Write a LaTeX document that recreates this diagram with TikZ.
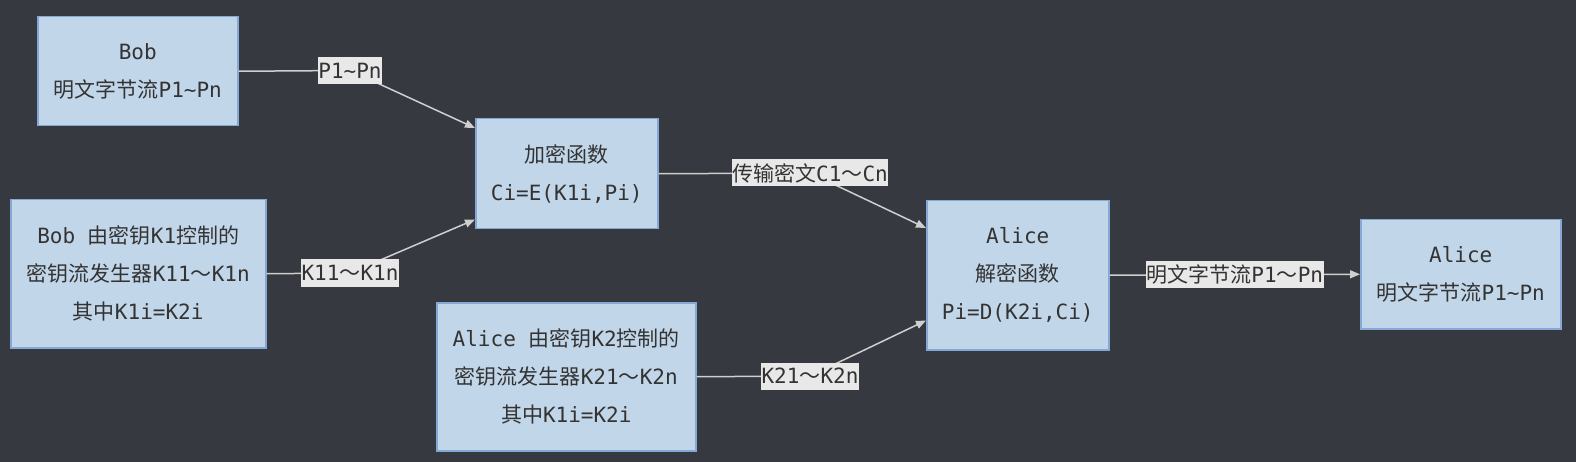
\documentclass[tikz,border=0pt]{standalone}
\usepackage{fontspec}
\setmainfont{DejaVu Sans Mono}
\newfontfamily\cjk{Noto Sans CJK SC}
\usetikzlibrary{arrows.meta,calc}
\definecolor{bg}{HTML}{36393F}
\definecolor{boxfill}{HTML}{C2D6E9}
\definecolor{boxline}{HTML}{85A8D4}
\definecolor{txt}{HTML}{333333}
\definecolor{edgecol}{HTML}{CFCFCF}
\definecolor{lblfill}{HTML}{E8E8E8}
\begin{document}
\begin{tikzpicture}[x=1pt,y=-1pt,
  box/.style={draw=boxline, fill=boxfill, line width=1.5pt, text=txt, align=center,
    font=\fontsize{21}{38}\selectfont, inner sep=0pt, anchor=north west},
  edge/.style={draw=edgecol, line width=1.5pt, -{Triangle[length=10pt,width=8pt]}},
  lbl/.style={fill=lblfill, text=txt, font=\fontsize{21}{26}\selectfont, inner xsep=0.5pt, inner ysep=0pt, minimum height=27pt}
]
\fill[bg] (0,0) rectangle (1576,462);
\useasboundingbox (0,0) rectangle (1576,462);

\node[box, minimum width=200pt, minimum height=109pt] (bob1) at (37,16)
  {Bob\\{\cjk 明文字节流}P1\textasciitilde Pn};
\node[box, minimum width=182pt, minimum height=110pt] (enc) at (475,118)
  {{\cjk 加密函数}\\Ci=E(K1i,Pi)};
\node[box, minimum width=255pt, minimum height=148pt] (bob2) at (10,199)
  {Bob {\cjk 由密钥}K1{\cjk 控制的}\\{\cjk 密钥流发生器}K11{\cjk ～}K1n\\{\cjk 其中}K1i=K2i};
\node[box, minimum width=259pt, minimum height=148pt] (kg2) at (436,302)
  {Alice {\cjk 由密钥}K2{\cjk 控制的}\\{\cjk 密钥流发生器}K21{\cjk ～}K2n\\{\cjk 其中}K1i=K2i};
\node[box, minimum width=182pt, minimum height=149pt] (dec) at (926,200)
  {Alice\\{\cjk 解密函数}\\Pi=D(K2i,Ci)};
\node[box, minimum width=200pt, minimum height=109pt] (fin) at (1360,219)
  {Alice\\{\cjk 明文字节流}P1\textasciitilde Pn};

\coordinate (b1) at (350,70.5);
\coordinate (b2) at (350,273);
\coordinate (b3) at (810,173);
\coordinate (b4) at (810,376);

\draw[edge] (bob1.east) -- (b1) -- ($(enc.north west)+(0,10)$);
\draw[edge] (bob2.east) -- (b2) -- ($(enc.south west)+(0,-10)$);
\draw[edge] (enc.east) -- (b3) -- ($(dec.north west)+(0,28)$);
\draw[edge] (kg2.east) -- (b4) -- ($(dec.south west)+(0,-30)$);
\draw[edge] (dec.east) -- (fin.west);

\node[lbl] (l1) at (b1) {P1\textasciitilde Pn};
\node[lbl] (l2) at (b2) {K11{\cjk ～}K1n};
\node[lbl] (l3) at (b3) {{\cjk 传输密文}C1{\cjk ～}Cn};
\node[lbl] (l4) at (b4) {K21{\cjk ～}K2n};
\node[lbl] (l5) at ($(dec.east)!0.5!(fin.west)$) {{\cjk 明文字节流}P1{\cjk ～}Pn};
\end{tikzpicture}
\end{document}
